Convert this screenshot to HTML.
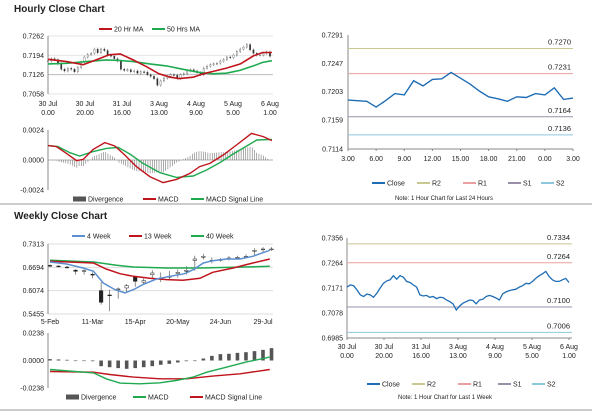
<!DOCTYPE html>
<html><head><meta charset="utf-8"><style>
body{margin:0;background:#fff;width:600px;height:413px;overflow:hidden;font-family:"Liberation Sans",sans-serif}
svg{position:absolute;left:0;top:0}
</style></head><body>
<svg id="c" width="600" height="413" font-family="Liberation Sans, sans-serif"></svg>
<script>
const weekClose=[.7174,.7182,.7179,.7164,.7145,.7139,.7148,.7145,.7136,.7151,.7170,.7188,.7197,.7201,.7216,.7203,.7216,.7211,.7195,.7191,.7182,.7174,.7145,.7141,.7143,.7136,.7139,.7131,.7136,.7135,.7126,.7120,.7112,.7089,.7104,.7114,.7120,.7126,.7124,.7112,.7126,.7129,.7139,.7143,.7139,.7133,.7126,.7149,.7156,.7161,.7164,.7166,.7174,.7179,.7188,.7186,.7195,.7207,.7216,.7223,.7232,.7213,.7201,.7195,.7195,.7201,.7206,.7191];
const ma20Hours=[0,10,19,26,33,39,46,53,60,66,71,78.5,84,89,96.5,104,111,116,121];
const ma20Vals=[.7180,.7172,.7161,.7178,.7196,.7199,.7178,.7155,.7129,.7117,.7112,.7117,.7129,.7137,.7149,.7164,.7192,.7204,.7204];
const ma50Hours=[0,10,20.8,31.6,38.8,46,55,64,73,82,89,96.5,103.7,111,116,121];
const ma50Vals=[.7164,.7166,.7172,.7178,.7176,.7172,.7164,.7157,.7145,.7134,.7129,.7131,.7141,.7157,.7169,.7175];
const macdHHours=[0,4.5,10,15.4,19,24.4,30.7,36.1,41.5,47.8,55,62.2,69.4,76.7,82,87.5,94.7,101.9,110,116.4,121];
const macdHVals=[.00115,.00107,.00053,-.00005,.00005,.00085,.00139,.00112,.0004,-.00053,-.00133,-.00181,-.00155,-.00107,-.00053,-.00027,.0004,.0012,.00213,.00187,.00155];
const sigHHours=[0,5.4,11.7,17.1,24.4,31.6,37.9,44.2,51.4,60.4,69.4,78.5,85.7,92.9,100.1,107.4,112.8,121];
const sigHVals=[.00115,.00107,.00059,.00032,.00067,.00093,.00101,.00048,-.00027,-.00101,-.00139,-.00128,-.0008,-.00021,.00048,.00112,.0016,.00165];
const hourLabels1=["30 Jul","30 Jul","31 Jul","3 Aug","4 Aug","5 Aug","6 Aug"];
const hourLabels2=["0.00","20.00","16.00","13.00","9.00","5.00","1.00"];
const dayClose=[.7190,.7189,.7188,.7179,.7189,.7200,.7198,.7220,.7212,.7222,.7223,.7233,.7224,.7215,.7204,.7195,.7192,.7188,.7195,.7194,.7200,.7198,.7209,.7191,.7193];
const dayLabels=["3.00","6.00","9.00","12.00","15.00","18.00","21.00","0.00","3.00"];
const dayTicks=[.7291,.7247,.7203,.7159,.7114];
const dayLevels=[.7270,.7231,.7164,.7136];
const weekTicks=[.7356,.7264,.7171,.7078,.6985];
const weekLevels=[.7334,.7264,.7100,.7006];
const wOpen=[.6745,.6728,.6700,.6620,.6600,.6510,.6075,.5960,.6100,.6146,.6438,.6300,.6500,.6380,.6430,.6530,.6590,.6880,.6960,.6880,.6880,.6930,.6950,.6975,.7120,.7165,.7170];
const wClose=[.6738,.6721,.6694,.6588,.6606,.6500,.5766,.5952,.6120,.6208,.6323,.6341,.6544,.6411,.6455,.6562,.6615,.6915,.6986,.6871,.6898,.6942,.6959,.6986,.7145,.7180,.7180];
const wHigh=[.6770,.6750,.6730,.6640,.6640,.6560,.6300,.6102,.6160,.6250,.6440,.6400,.6620,.6560,.6600,.6640,.6720,.7000,.7050,.6960,.6940,.6990,.7000,.7040,.7200,.7230,.7230];
const wLow=[.6710,.6700,.6670,.6500,.6500,.6400,.5704,.5527,.5860,.6040,.6180,.6250,.6400,.6300,.6380,.6420,.6500,.6600,.6900,.6800,.6850,.6880,.6900,.6940,.6980,.7100,.7130];
const w4Weeks=[0,1.95,3.9,5.1,6.25,7.6,8.8,9.8,10.9,12.5,14.1,15.8,16.8,18,19.1,20.7,22.3,23.8,25.8];
const w4Vals=[.6836,.6783,.6677,.6588,.6279,.6102,.6014,.6102,.6235,.6385,.6455,.6526,.6632,.6809,.6871,.6915,.6915,.6986,.7145];
const w13Weeks=[0,5.1,6.6,8.2,9.8,11.7,13.7,15.6,17.6,19.1,21.5,23.8,25.8];
const w13Vals=[.6853,.6809,.6650,.6526,.6455,.6402,.6367,.6349,.6402,.6562,.6677,.6809,.6915];
const w40Weeks=[0,5.1,7.8,9.8,13.7,17.6,21.5,25.8];
const w40Vals=[.6880,.6836,.6747,.6703,.6677,.6677,.6694,.6721];
const wDiv=[.0012,.0009,.0006,0,0,-.0006,-.0049,-.0058,-.0066,-.0072,-.0066,-.0058,-.0049,-.0037,-.0029,-.0017,-.0006,0,.0017,.004,.0055,.0058,.0066,.0072,.0081,.0092,.0107];
const wMacdWeeks=[0,5.1,6.6,8.2,10.5,12.9,14.8,16.8,18.4,20.7,23.0,25.8];
const wMacdVals=[-.0078,-.0107,-.0158,-.0196,-.0202,-.0193,-.0173,-.0144,-.0101,-.0058,-.0014,.0029];
const wSigWeeks=[0,5.1,7.0,9.8,12.9,16.0,19.1,22.3,25.8];
const wSigVals=[-.0095,-.0101,-.0121,-.0144,-.0158,-.0158,-.0135,-.0115,-.0078];
const weekLabels=["5-Feb","11-Mar","15-Apr","20-May","24-Jun","29-Jul"];

const S=document.getElementById('c');const NS='http://www.w3.org/2000/svg';
function el(t,a,txt){const e=document.createElementNS(NS,t);for(const k in a)e.setAttribute(k,a[k]);if(txt!==undefined)e.textContent=txt;S.appendChild(e);return e;}
function sc(d0,d1,r0,r1){return v=>r0+(v-d0)/(d1-d0)*(r1-r0);}
function txt(x,y,s,name,anchor,size,weight){const e=el('text',{x:x,y:y,'font-size':size||7,'text-anchor':anchor||'start','font-weight':weight||'normal',fill:'#222'},s);

return e;}
function line(x1,y1,x2,y2,c,w,name){const e=el('line',{x1:x1,y1:y1,x2:x2,y2:y2,stroke:c,'stroke-width':w||1});

return e;}
function path(xs,ys,X,Y,c,w,name){const d=xs.map((x,i)=>(i?'L':'M')+X(x).toFixed(1)+' '+Y(ys[i]).toFixed(1)).join('');const e=el('path',{d:d,fill:'none',stroke:c,'stroke-width':w||1.5});

return e;}
function interp(xs,ys,x){for(let i=1;i<xs.length;i++){if(x<=xs[i]){const t=(x-xs[i-1])/(xs[i]-xs[i-1]);return ys[i-1]+t*(ys[i]-ys[i-1]);}}return ys[ys.length-1];}
function legend(x,y,c,label,name,bar){if(bar){const r=el('rect',{x:x,y:y-2.5,width:13,height:5,fill:'#555'});}else line(x,y,x+13,y,c,2,name+'-swatch');txt(x+15,y+2.5,label,name+'-label');}
function yAxis(x,y0,y1,name){line(x,y0,x,y1,'#888',1,name);}

txt(14,12,'Hourly Close Chart','hourly-title','start',10,'bold');
txt(14,219,'Weekly Close Chart','weekly-title','start',10,'bold');
line(0,204,592,204,'#999',1,'separator-top');
line(0,410,592,410,'#999',1,'separator-bottom');

const H0=0,H1=120;
{const X=sc(H0,H1,48,270),Y=sc(.7058,.7262,94,36);
[.7262,.7194,.7126,.7058].forEach((t,i)=>{line(48,Y(t),273,Y(t),i==2?'#bbb':'#e4e4e4',1,'grid-line');txt(44,Y(t)+2.5,t.toFixed(4),'y-tick-label','end');});
yAxis(48,36,94,'y-axis');
const n=weekClose.length,dx=(H1-H0)/(n-1);
weekClose.forEach((c,i)=>{const o=i?weekClose[i-1]:c;const x=X(i*dx);const y1=Y(Math.max(o,c)),y2=Y(Math.min(o,c));
line(x,y1-1.5,x,y2+1.5,'#444',0.4,'candle-wick');
const r=el('rect',{x:x-0.7,y:y1,width:1.4,height:Math.max(0.8,y2-y1),fill:c<o?'#333':'#fff',stroke:'#333','stroke-width':0.3});

});
path(ma50Hours,ma50Vals,X,Y,'#1faa50',1.6,'ma50-line');
path(ma20Hours,ma20Vals,X,Y,'#c0141c',1.6,'ma20-line');
hourLabels1.forEach((l,i)=>{txt(X(i*20),106,l,'x-tick-label','middle');txt(X(i*20),115,hourLabels2[i],'x-tick-label','middle');});
legend(99,29,'#c0141c','20 Hr MA','legend-ma20');legend(152,29,'#1faa50','50 Hrs MA','legend-ma50');}

{const X=sc(H0,H1,48,270),Y=sc(-.0024,.0024,190,130);
[.0024,0,-.0024].forEach(t=>txt(44,Y(t)+2.5,t.toFixed(4),'y-tick-label','end'));
yAxis(48,130,190,'y-axis');line(48,Y(0),273,Y(0),'#999',0.8,'zero-line');
for(let h=0;h<=121;h+=1.2){const d=(interp(macdHHours,macdHVals,h)-interp(sigHHours,sigHVals,h))*1.4;
line(X(h),Y(0),X(h),Y(d),'#777',0.6,'divergence-bar');}
path(sigHHours,sigHVals,X,Y,'#1faa50',1.4,'signal-line');
path(macdHHours,macdHVals,X,Y,'#c0141c',1.4,'macd-line');
legend(73,199,'#555','Divergence','legend-divergence',true);legend(143,199,'#c0141c','MACD','legend-macd');legend(191,199,'#1faa50','MACD Signal Line','legend-signal');}

{const X=sc(0,24,348,573),Y=sc(.7114,.7291,149,35);
dayTicks.forEach(t=>txt(343,Y(t)+2.5,t.toFixed(4),'y-tick-label','end'));
yAxis(348,35,149,'y-axis');line(348,149,573,149,'#888',1,'x-axis');
dayLabels.forEach((l,i)=>{line(348+i*225/8,149,348+i*225/8,151,'#888',1,'x-tick');txt(348+i*225/8,161,l,'x-tick-label','middle');});
const cols=['#c8c890','#eaa0a0','#9a8fa8','#8ec8de'];
dayLevels.forEach((v,i)=>{line(348,Y(v),573,Y(v),cols[i],1,'level-line');txt(571,Y(v)-4,v.toFixed(4),'level-label','end',7.5);});
path(dayClose.map((_,i)=>i),dayClose,X,Y,'#1f6db4',1.4,'close-line');
legend(372,183,'#1f6db4','Close','legend-close');legend(417,183,cols[0],'R2','legend-r2');legend(463,183,cols[1],'R1','legend-r1');legend(508,183,cols[2],'S1','legend-s1');legend(541,183,cols[3],'S2','legend-s2');
txt(444,200,'Note: 1 Hour Chart for Last 24 Hours','note','middle',6);}

{const X=sc(H0,H1,347,569),Y=sc(.6985,.7356,338,238);
weekTicks.forEach(t=>txt(343,Y(t)+2.5,t.toFixed(4),'y-tick-label','end'));
yAxis(347,238,338,'y-axis');line(347,338,572,338,'#888',1,'x-axis');
const cols=['#c8c890','#eaa0a0','#9a8fa8','#8ec8de'];
weekLevels.forEach((v,i)=>{line(347,Y(v),572,Y(v),cols[i],1,'level-line');txt(570,Y(v)-4,v.toFixed(4),'level-label','end',7.5);});
const n=weekClose.length,dx=(H1-H0)/(n-1);
path(weekClose.map((_,i)=>i*dx),weekClose,X,Y,'#1f6db4',1.3,'close-line');
hourLabels1.forEach((l,i)=>{line(X(i*20),338,X(i*20),340,'#888',1,'x-tick');txt(X(i*20),349,l,'x-tick-label','middle');txt(X(i*20),358,hourLabels2[i],'x-tick-label','middle');});
legend(367,384,'#1f6db4','Close','legend-close');legend(412,384,cols[0],'R2','legend-r2');legend(458,384,cols[1],'R1','legend-r1');legend(498,384,cols[2],'S1','legend-s1');legend(532,384,cols[3],'S2','legend-s2');
txt(445,399,'Note: 1 Hour Chart for Last 1 Week','note','middle',6);}

{const X=sc(0,25,50,263),Y=sc(.5455,.7313,314,244);
[.7313,.6694,.6074,.5455].forEach(t=>{line(48,Y(t),273,Y(t),'#ddd',1,'grid-line');txt(44,Y(t)+2.5,t.toFixed(4),'y-tick-label','end');});
yAxis(48,244,314,'y-axis');
wClose.forEach((c,i)=>{const o=wOpen[i],x=X(i);line(x,Y(wHigh[i]),x,Y(wLow[i]),'#444',0.6,'candle-wick');
const y1=Y(Math.max(o,c)),y2=Y(Math.min(o,c));
const r=el('rect',{x:x-1.8,y:y1,width:3.6,height:Math.max(0.8,y2-y1),fill:c<o?'#222':'#fff',stroke:'#222','stroke-width':0.5});

});
path(w40Weeks,w40Vals,X,Y,'#1faa50',1.5,'ma40-line');
path(w13Weeks,w13Vals,X,Y,'#c0141c',1.5,'ma13-line');
path(w4Weeks,w4Vals,X,Y,'#5b8fd0',1.5,'ma4-line');
weekLabels.forEach((l,i)=>txt(X(i*5),324,l,'x-tick-label','middle'));
legend(72,236,'#5b8fd0','4 Week','legend-4week');legend(129,236,'#c0141c','13 Week','legend-13week');legend(191,236,'#1faa50','40 Week','legend-40week');}

{const X=sc(0,25,50,263),Y=sc(-.0238,.0238,388,333);
[.0238,0,-.0238].forEach(t=>txt(44,Y(t)+2.5,t.toFixed(4),'y-tick-label','end'));
yAxis(48,333,388,'y-axis');
wDiv.forEach((v,i)=>{const y=Math.min(Y(0),Y(v));const r=el('rect',{x:X(i)-1.8,y:y,width:3.6,height:Math.max(0.6,Math.abs(Y(v)-Y(0))),fill:'#555'});

});
path(wSigWeeks,wSigVals,X,Y,'#c0141c',1.4,'signal-line');
path(wMacdWeeks,wMacdVals,X,Y,'#1faa50',1.4,'macd-line');
legend(66,397,'#555','Divergence','legend-divergence',true);legend(133,397,'#1faa50','MACD','legend-macd');legend(190,397,'#c0141c','MACD Signal Line','legend-signal');}
</script>
</body></html>
